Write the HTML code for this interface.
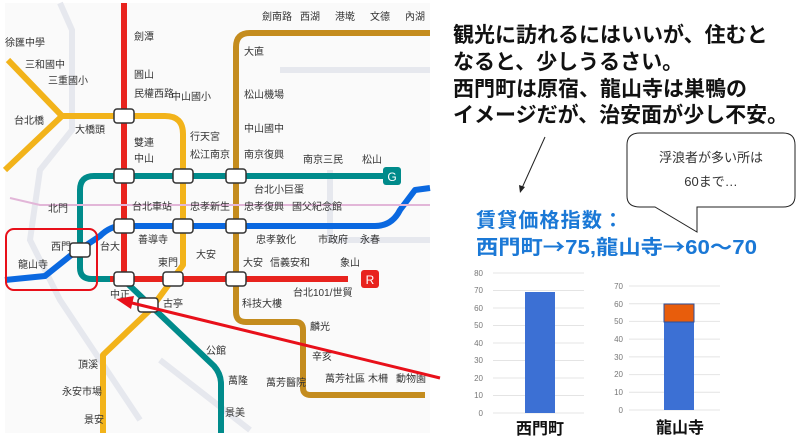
<!DOCTYPE html>
<html><head><meta charset="utf-8"><style>
html,body{margin:0;padding:0;background:#fff}
svg{display:block}
text{font-family:"Liberation Sans","Noto Sans CJK JP",sans-serif}
.cjk{font-family:"Noto Sans CJK JP",sans-serif}
</style></head><body>
<svg width="807" height="447" viewBox="0 0 807 447" xmlns="http://www.w3.org/2000/svg">
<rect width="807" height="447" fill="#fff"/>
<rect x="5" y="3" width="425" height="430" fill="#fafafa"/>
<g fill="none" stroke="#e6e8ee" stroke-width="6">
<path d="M60 3 L72 30 L72 130 L40 170 L30 240 L60 300 L140 420"/>
<path d="M280 70 L430 70"/><path d="M330 170 L330 240 L430 240"/>
<path d="M160 360 L250 430"/>
</g>
<g fill="none" stroke-linejoin="round" stroke-width="6">
<path d="M430 33 L250 33 Q236 33 236 47 L236 312 Q236 322 246 322 L296 322 Q303 322 303 330 L303 388 Q303 395 311 395 L425 395" stroke="#c48c1e"/>
<path d="M5 170 L62 116 L165 116 Q183 116 183 134 L183 265 L150 310 L103 355 L103 433" stroke="#f2b31a"/>
<path d="M8 60 L62 116" stroke="#f2b31a"/>
<path d="M390 176 L94 176 Q80 176 80 190 L80 268 Q80 279 92 279 L112 279" stroke="#008b8b"/>
<path d="M128 284 L214 366 Q221 374 221 384 L221 433" stroke="#008b8b"/>
<path d="M5 280 L45 276 L70 256 L100 236 Q110 226 122 226 L375 226 Q392 226 400 210 L415 190 L430 188" stroke="#0a68e0"/>
<path d="M124 3 L124 279 M110 279 L348 279" stroke="#e8231e"/>
</g>
<path d="M10 198 L40 205 L100 205 L430 205" stroke="#e2b6d8" stroke-width="2" fill="none"/>
<g stroke="#333" stroke-width="1.5" fill="#fff">
<rect x="114" y="109" width="20" height="14" rx="3"/><rect x="114" y="169" width="20" height="14" rx="3"/>
<rect x="173" y="169" width="20" height="14" rx="3"/><rect x="226" y="169" width="20" height="14" rx="3"/>
<rect x="114" y="219" width="20" height="14" rx="3"/><rect x="173" y="219" width="20" height="14" rx="3"/>
<rect x="226" y="219" width="20" height="14" rx="3"/><rect x="70" y="243" width="20" height="14" rx="3"/>
<rect x="114" y="272" width="20" height="14" rx="3"/><rect x="163" y="272" width="20" height="14" rx="3"/>
<rect x="226" y="272" width="20" height="14" rx="3"/><rect x="138" y="298" width="20" height="14" rx="3"/>
</g>
<rect x="383" y="167" width="18" height="18" rx="3" fill="#008b8b"/><text x="392" y="181" font-size="12" fill="#fff" text-anchor="middle">G</text>
<rect x="361" y="270" width="18" height="18" rx="3" fill="#e8231e"/><text x="370" y="284" font-size="12" fill="#fff" text-anchor="middle">R</text>
<g font-size="10" fill="#333">
<text x="262" y="20">劍南路</text><text x="300" y="20">西湖</text><text x="335" y="20">港墘</text><text x="370" y="20">文德</text><text x="405" y="20">內湖</text>
<text x="244" y="55">大直</text><text x="244" y="98">松山機場</text><text x="244" y="132">中山國中</text><text x="244" y="158">南京復興</text>
<text x="303" y="163">南京三民</text><text x="362" y="163">松山</text><text x="254" y="193">台北小巨蛋</text>
<text x="134" y="78">圓山</text><text x="134" y="97">民權西路</text><text x="171" y="100">中山國小</text><text x="190" y="140">行天宮</text>
<text x="190" y="158">松江南京</text><text x="134" y="146">雙連</text><text x="134" y="162">中山</text><text x="134" y="40">劍潭</text>
<text x="132" y="210">台北車站</text><text x="190" y="210">忠孝新生</text><text x="244" y="210">忠孝復興</text><text x="292" y="210">國父紀念館</text>
<text x="48" y="212">北門</text><text x="138" y="243">善導寺</text><text x="256" y="243">忠孝敦化</text><text x="318" y="243">市政府</text><text x="360" y="243">永春</text>
<text x="51" y="250">西門</text><text x="18" y="268">龍山寺</text><text x="100" y="250">台大</text><text x="158" y="266">東門</text><text x="196" y="258">大安</text>
<text x="243" y="266">大安</text><text x="270" y="266">信義安和</text><text x="340" y="266">象山</text><text x="293" y="296">台北101/世貿</text>
<text x="242" y="307">科技大樓</text><text x="163" y="307">古亭</text><text x="110" y="298">中正</text><text x="310" y="330">麟光</text><text x="312" y="360">辛亥</text>
<text x="206" y="354">公館</text><text x="228" y="384">萬隆</text><text x="266" y="386">萬芳醫院</text><text x="325" y="382">萬芳社區</text><text x="368" y="382">木柵</text><text x="396" y="382">動物園</text>
<text x="225" y="416">景美</text><text x="78" y="368">頂溪</text><text x="62" y="395">永安市場</text><text x="84" y="423">景安</text>
<text x="25" y="68">三和國中</text><text x="48" y="84">三重國小</text><text x="14" y="124">台北橋</text><text x="75" y="133">大橋頭</text><text x="5" y="46">徐匯中學</text>
</g>
<rect x="6" y="229" width="91" height="61" rx="8" fill="none" stroke="#e8101a" stroke-width="2"/>
<line x1="440" y1="378" x2="132" y2="303" stroke="#e8101a" stroke-width="3"/>
<polygon points="116,299 134,296 131,309" fill="#e8101a"/>
<g font-size="21" font-weight="bold" fill="#111">
<text x="453" y="42">観光に訪れるにはいいが、住むと</text>
<text x="453" y="69">なると、少しうるさい。</text>
<text x="453" y="96">西門町は原宿、龍山寺は巣鴨の</text>
<text x="453" y="122">イメージだが、治安面が少し不安。</text>
</g>
<line x1="545" y1="137" x2="522" y2="188" stroke="#222" stroke-width="1"/>
<polygon points="520,193 519,185 525,187" fill="#222"/>
<path d="M640 133 L783 133 Q795 133 795 145 L795 196 Q795 207 783 207 L697 207 L697 232 L655 207 L640 207 Q627 207 627 196 L627 145 Q627 133 640 133 Z" fill="#fff" stroke="#222" stroke-width="1"/>
<text x="711" y="162" font-size="13" fill="#333" text-anchor="middle">浮浪者が多い所は</text>
<text x="711" y="186" font-size="13" fill="#333" text-anchor="middle">60まで…</text>
<g font-size="20" font-weight="bold" fill="#1a78d6">
<text x="476" y="227" textLength="147" lengthAdjust="spacing">賃貸価格指数：</text>
<text x="476" y="254" textLength="281" lengthAdjust="spacingAndGlyphs">西門町<tspan class="cjk">→</tspan>75,龍山寺<tspan class="cjk">→</tspan>60～70</text>
</g>
<g stroke="#e4e4e4" stroke-width="1">
<line x1="493" y1="273" x2="584" y2="273"/><line x1="493" y1="290.5" x2="584" y2="290.5"/><line x1="493" y1="308" x2="584" y2="308"/><line x1="493" y1="325.5" x2="584" y2="325.5"/><line x1="493" y1="343" x2="584" y2="343"/><line x1="493" y1="360.5" x2="584" y2="360.5"/><line x1="493" y1="378" x2="584" y2="378"/><line x1="493" y1="395.5" x2="584" y2="395.5"/><line x1="493" y1="413" x2="584" y2="413"/>
<line x1="629" y1="286" x2="720" y2="286"/><line x1="629" y1="303.7" x2="720" y2="303.7"/><line x1="629" y1="321.4" x2="720" y2="321.4"/><line x1="629" y1="339.1" x2="720" y2="339.1"/><line x1="629" y1="356.9" x2="720" y2="356.9"/><line x1="629" y1="374.6" x2="720" y2="374.6"/><line x1="629" y1="392.3" x2="720" y2="392.3"/><line x1="629" y1="410" x2="720" y2="410"/>
</g>
<g font-size="8" fill="#777" text-anchor="end">
<text x="483" y="276">80</text><text x="483" y="293">70</text><text x="483" y="311">60</text><text x="483" y="328">50</text><text x="483" y="346">40</text><text x="483" y="363">30</text><text x="483" y="381">20</text><text x="483" y="398">10</text><text x="483" y="416">0</text>
<text x="623" y="289">70</text><text x="623" y="307">60</text><text x="623" y="324">50</text><text x="623" y="342">40</text><text x="623" y="360">30</text><text x="623" y="377">20</text><text x="623" y="395">10</text><text x="623" y="413">0</text>
</g>
<rect x="525" y="292" width="30" height="121" fill="#3c70d4"/>
<rect x="664" y="322" width="30" height="88" fill="#3c70d4"/>
<rect x="664" y="304" width="30" height="18" fill="#e85d0c" stroke="#2d4f9a" stroke-width="1"/>
<text x="540" y="434" font-size="16" font-weight="bold" fill="#111" text-anchor="middle">西門町</text>
<text x="680" y="433" font-size="16" font-weight="bold" fill="#111" text-anchor="middle">龍山寺</text>
</svg>
</body></html>
